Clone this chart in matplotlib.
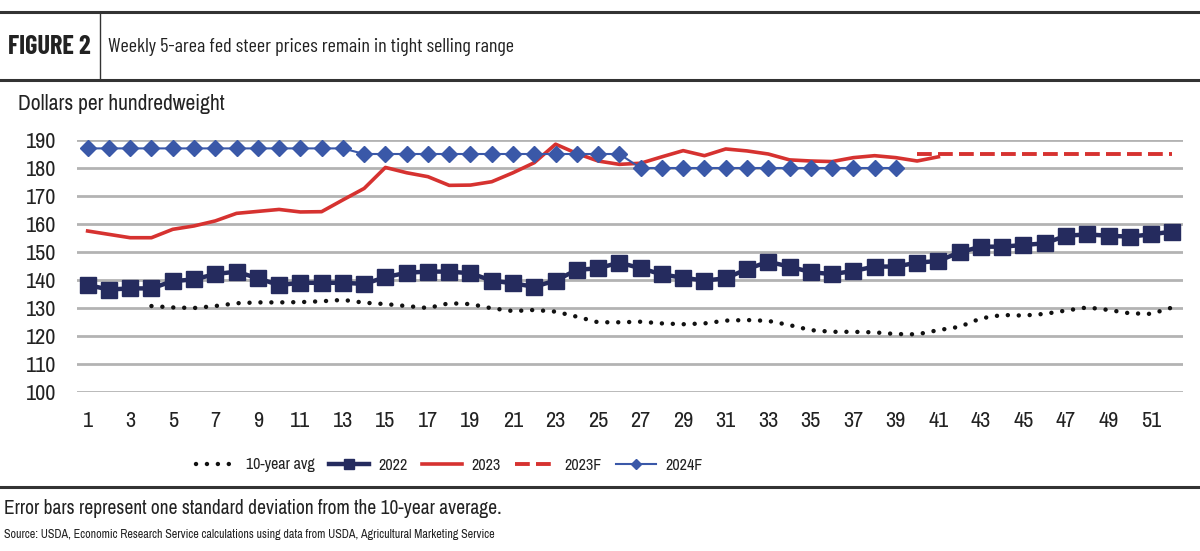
import matplotlib
matplotlib.use("Agg")
import matplotlib.pyplot as plt
from matplotlib.lines import Line2D

weeks = list(range(1, 53))

avg10_weeks = list(range(4, 53))
avg10 = [130.7, 130.2, 130.0, 130.7, 131.7, 132.0, 132.0, 132.1, 132.4, 132.9,
         131.9, 131.4, 130.7, 130.0, 131.7, 131.4, 129.9, 128.9, 129.3, 128.7,
         126.9, 124.9, 124.9, 125.1, 124.5, 124.2, 124.5, 125.5, 125.7, 125.4,
         123.9, 122.1, 121.5, 121.5, 121.3, 120.7, 120.6, 122.1, 123.3, 126.3,
         127.5, 127.3, 127.9, 129.1, 130.2, 129.3, 128.1, 127.9, 130.2]

y2022 = [138.2, 136.6, 137.0, 137.0, 139.6, 140.2, 142.1, 143.0, 140.6, 138.2,
         139.0, 139.0, 139.0, 138.6, 141.0, 142.6, 143.0, 143.0, 142.4, 139.8,
         138.8, 137.6, 139.8, 143.6, 144.2, 146.2, 144.2, 142.0, 140.8, 139.8,
         140.6, 143.9, 146.5, 144.8, 142.8, 142.1, 143.2, 144.8, 144.8, 146.2,
         146.8, 149.9, 151.9, 151.9, 152.5, 153.1, 155.8, 156.3, 155.8, 155.5,
         156.3, 157.3]

w2023 = list(range(1, 42))
y2023 = [157.5, 156.3, 155.1, 155.1, 158.1, 159.3, 161.1, 163.8, 164.5, 165.2,
         164.3, 164.4, 168.6, 172.7, 180.2, 178.3, 176.9, 173.8, 173.9, 175.1,
         178.3, 181.9, 188.5, 185.2, 182.5, 181.3, 181.7, 184.0, 186.2, 184.4,
         186.8, 186.1, 185.0, 182.9, 182.5, 182.3, 183.7, 184.4, 183.7, 182.5,
         184.0]

w2023f = list(range(40, 53))
y2023f = [185.0] * 13

w2024f = list(range(1, 40))
y2024f = [187.0] * 13 + [185.0] * 13 + [180.0] * 13

yticks = list(range(100, 200, 10))
xticks = list(range(1, 53, 2))

C_NAVY = "#252B5E"
C_RED = "#D63230"
C_BLUE = "#3A58A8"
C_GRID = "#B3B3B3"
C_TXT = "#222222"

HEAD_B = ["Barlow Condensed", "DejaVu Sans"]
HEAD = ["Barlow Condensed", "DejaVu Sans"]
NARROW = ["Archivo Narrow", "Roboto Condensed", "DejaVu Sans"]

fig = plt.figure(figsize=(12, 5.51), dpi=100)


def hline(y_px, lw):
    fig.add_artist(Line2D([0, 1], [1 - y_px / 551, 1 - y_px / 551],
                          transform=fig.transFigure, color="#333333", lw=lw))


hline(12, 2.2)
hline(80, 2.2)
hline(487, 2.2)
fig.add_artist(Line2D([100 / 1200, 100 / 1200], [1 - 12 / 551, 1 - 80 / 551],
                      transform=fig.transFigure, color="#333333", lw=1.0))

fig.text(8 / 1200, 1 - 47 / 551, "FIGURE 2", fontsize=19, fontweight="bold",
         family=HEAD_B, color=C_TXT, va="center", ha="left")
fig.text(108 / 1200, 1 - 47 / 551,
         "Weekly 5-area fed steer prices remain in tight selling range",
         fontsize=14.5, family=HEAD, color=C_TXT, va="center", ha="left")

fig.text(18 / 1200, 1 - 104 / 551, "Dollars per hundredweight", fontsize=15.5,
         family=NARROW, color=C_TXT, va="center", ha="left")

ax = fig.add_axes([77 / 1200, 1 - 392 / 551, (1183 - 77) / 1200, (392 - 140) / 551])
ax.set_xlim(0.5, 52.5)
ax.set_ylim(100, 190)
for s in ax.spines.values():
    s.set_visible(False)
ax.set_yticks(yticks)
ax.set_xticks(xticks)
ax.tick_params(axis="both", length=0, labelsize=16, colors=C_TXT)
ax.tick_params(axis="y", pad=15)
ax.tick_params(axis="x", pad=14)
for lab in ax.get_xticklabels() + ax.get_yticklabels():
    lab.set_family(NARROW)
ax.yaxis.grid(True, color=C_GRID, lw=2.0)
ax.set_axisbelow(True)

l_avg, = ax.plot(avg10_weeks, avg10, color="#111111", lw=3.2,
                 linestyle=(0, (0.01, 2.45)), dash_capstyle="round",
                 clip_on=False, label="10-year avg")
l22, = ax.plot(weeks, y2022, color=C_NAVY, lw=3.2, marker="s", ms=11,
               clip_on=False, label="2022")
l23, = ax.plot(w2023, y2023, color=C_RED, lw=2.6, clip_on=False, label="2023")
l23f, = ax.plot(w2023f, y2023f, color=C_RED, lw=2.8, linestyle=(0, (3.8, 1.6)),
                clip_on=False, label="2023F")
l24, = ax.plot(w2024f, y2024f, color=C_BLUE, lw=1.5, marker="D", ms=8,
               clip_on=False, label="2024F", zorder=3)

leg = fig.legend(handles=[l_avg, l22, l23, l23f, l24], loc="center left",
                 bbox_to_anchor=(196 / 1200, 1 - 465 / 551), ncol=5,
                 frameon=False, handlelength=2.5, handletextpad=0.6,
                 columnspacing=0.9, prop={"family": NARROW, "size": 11.5},
                 markerscale=0.65, borderaxespad=0, borderpad=0)
for t in leg.get_texts():
    t.set_color(C_TXT)

fig.text(4 / 1200, 1 - 508 / 551,
         "Error bars represent one standard deviation from the 10-year average.",
         fontsize=14, family=NARROW, color=C_TXT, va="center", ha="left")
fig.text(4 / 1200, 1 - 534 / 551,
         "Source: USDA, Economic Research Service calculations using data from USDA, Agricultural Marketing Service",
         fontsize=8.7, family=NARROW, color=C_TXT, va="center", ha="left")

fig.savefig("out.png", dpi=100)
